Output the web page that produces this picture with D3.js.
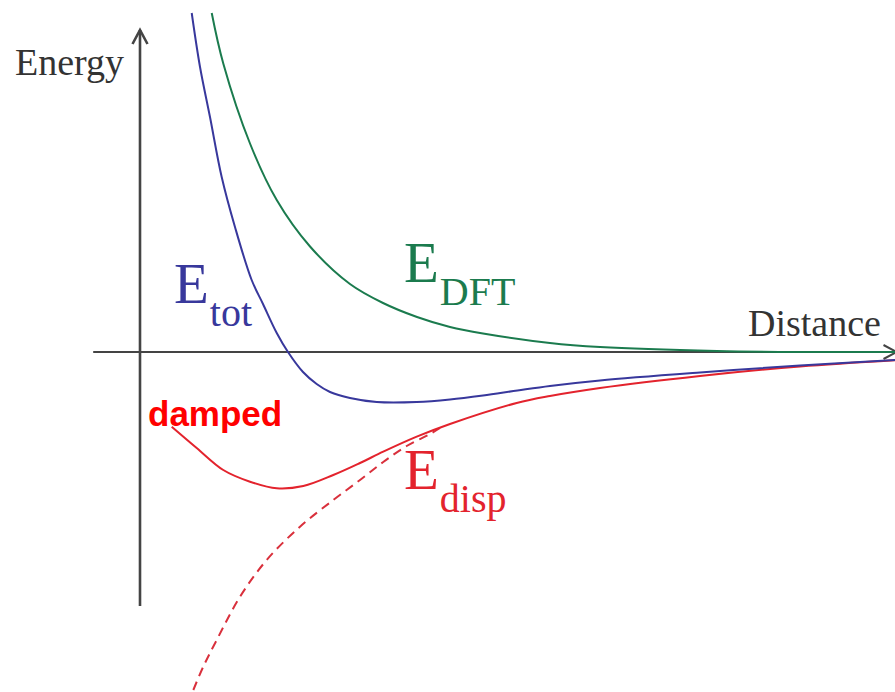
<!DOCTYPE html>
<html>
<head>
<meta charset="utf-8">
<script src="https://cdn.jsdelivr.net/npm/d3@7"></script>
<style>
  body { margin: 0; background: #fff; }
  .container { width: 895px; height: 692px; }
</style>
</head>
<body>
<div class="container"></div>
<script>
// curve values, x = distance, y = energy (arbitrary units)
const dftX = [0.95, 1.103, 1.457, 1.811, 2.252, 2.781, 3.219, 3.669, 4.106, 4.543, 5.43, 6.093, 7.642, 8.742, 10]
const dftY = [6.78, 5.77, 4.17, 3.04, 2.11, 1.36, 0.98, 0.7, 0.5, 0.37, 0.18, 0.1, 0.02, 0.0, 0.0]

const totX = [0.685, 0.795, 0.927, 1.082, 1.258, 1.479, 1.629, 1.811, 1.96, 2.159, 2.34, 2.517, 2.781, 3.135, 3.665, 4.106, 4.543, 5.0, 5.43, 6.093, 7.417, 8.742, 10]
const totY = [6.78, 5.7, 4.7, 3.5, 2.5, 1.44, 0.96, 0.38, 0, -0.4, -0.64, -0.8, -0.92, -1.0, -1.0, -0.95, -0.87, -0.77, -0.68, -0.57, -0.41, -0.27, -0.16]

const dampX = [0.42, 0.751, 1.103, 1.457, 1.811, 2.163, 2.56, 2.914, 3.222, 3.665, 4.106, 4.989, 5.43, 6.093, 7.417, 8.742, 10]
const dampY = [-1.494, -1.92, -2.36, -2.594, -2.726, -2.68, -2.46, -2.22, -1.994, -1.694, -1.44, -1.02, -0.88, -0.72, -0.48, -0.29, -0.165]

const bareX = [0.706, 0.838, 1.016, 1.325, 1.678, 2.119, 2.56, 2.914, 3.222, 3.532, 3.841, 3.974]
const bareY = [-6.76, -6.294, -5.76, -4.894, -4.16, -3.494, -2.96, -2.56, -2.2, -1.88, -1.64, -1.52]

const axisLabels = ['Energy', 'Distance']

const zip = (xs, ys) => xs.map((x, i) => ({ x: x, y: ys[i] }))

const container = document.querySelector('.container')
const width = 895
const height = 692

const svg = d3
  .select(container)
  .append('svg')
  .attr('width', width)
  .attr('height', height)

const x = d3.scaleLinear().domain([0, 10]).range([140, 895])
const y = d3.scaleLinear().domain([-6.8, 7.04]).range([692, 0])

const axisColor = '#444'
const serif = "'Liberation Serif', 'Times New Roman', serif"
const sans = "'Liberation Sans', Arial, sans-serif"

// axes
svg
  .append('line')
  .attr('x1', x(0))
  .attr('x2', x(0))
  .attr('y1', y(-5.08))
  .attr('y2', y(6.44))
  .attr('stroke', axisColor)
  .attr('stroke-width', 2.6)

svg
  .append('path')
  .attr('d', `M${x(0) - 7.5},${y(6.44) + 14} L${x(0)},${y(6.44)} L${x(0) + 7.5},${y(6.44) + 14}`)
  .attr('fill', 'none')
  .attr('stroke', axisColor)
  .attr('stroke-width', 2.6)

svg
  .append('line')
  .attr('x1', x(-0.62))
  .attr('x2', x(10.02))
  .attr('y1', y(0))
  .attr('y2', y(0))
  .attr('stroke', axisColor)
  .attr('stroke-width', 2)

svg
  .append('path')
  .attr('d', `M${x(10.02) - 13},${y(0) - 7} L${x(10.02)},${y(0)} L${x(10.02) - 13},${y(0) + 7}`)
  .attr('fill', 'none')
  .attr('stroke', axisColor)
  .attr('stroke-width', 2)

const line = d3
  .line()
  .x((d) => x(d.x))
  .y((d) => y(d.y))
  .curve(d3.curveCatmullRom.alpha(0.5))

svg
  .append('path')
  .datum(zip(dftX, dftY))
  .attr('d', line)
  .attr('fill', 'none')
  .attr('stroke', '#1b7b4e')
  .attr('stroke-width', 2)

svg
  .append('path')
  .datum(zip(bareX, bareY))
  .attr('d', line)
  .attr('fill', 'none')
  .attr('stroke', '#d9303c')
  .attr('stroke-width', 2)
  .attr('stroke-dasharray', '9,6')

svg
  .append('path')
  .datum(zip(dampX, dampY))
  .attr('d', line)
  .attr('fill', 'none')
  .attr('stroke', '#e3232d')
  .attr('stroke-width', 2)

svg
  .append('path')
  .datum(zip(totX, totY))
  .attr('d', line)
  .attr('fill', 'none')
  .attr('stroke', '#38389c')
  .attr('stroke-width', 2)

// labels
svg
  .append('text')
  .attr('x', 15)
  .attr('y', 75)
  .style('font-family', serif)
  .style('font-size', '38px')
  .attr('fill', '#333')
  .text(axisLabels[0])

svg
  .append('text')
  .attr('x', 748)
  .attr('y', 336)
  .style('font-family', serif)
  .style('font-size', '38px')
  .attr('fill', '#333')
  .text(axisLabels[1])

function energyLabel(px, py, sub, color, subDy) {
  const t = svg
    .append('text')
    .attr('x', px)
    .attr('y', py)
    .style('font-family', serif)
    .attr('fill', color)
  t.append('tspan')
    .style('font-family', serif)
    .style('font-size', '57px')
    .text('E')
  t.append('tspan')
    .style('font-family', serif)
    .style('font-size', '40px')
    .attr('dx', 1)
    .attr('dy', subDy)
    .text(sub)
}

energyLabel(174, 303, 'tot', '#38389c', 23)
energyLabel(404, 282, 'DFT', '#1b7b4e', 23)
energyLabel(404, 489, 'disp', '#e3232d', 23)

svg
  .append('text')
  .attr('x', 148)
  .attr('y', 426)
  .style('font-family', sans)
  .style('font-weight', 'bold')
  .style('font-size', '35px')
  .attr('fill', '#ff0000')
  .text('damped')
</script>
</body>
</html>
